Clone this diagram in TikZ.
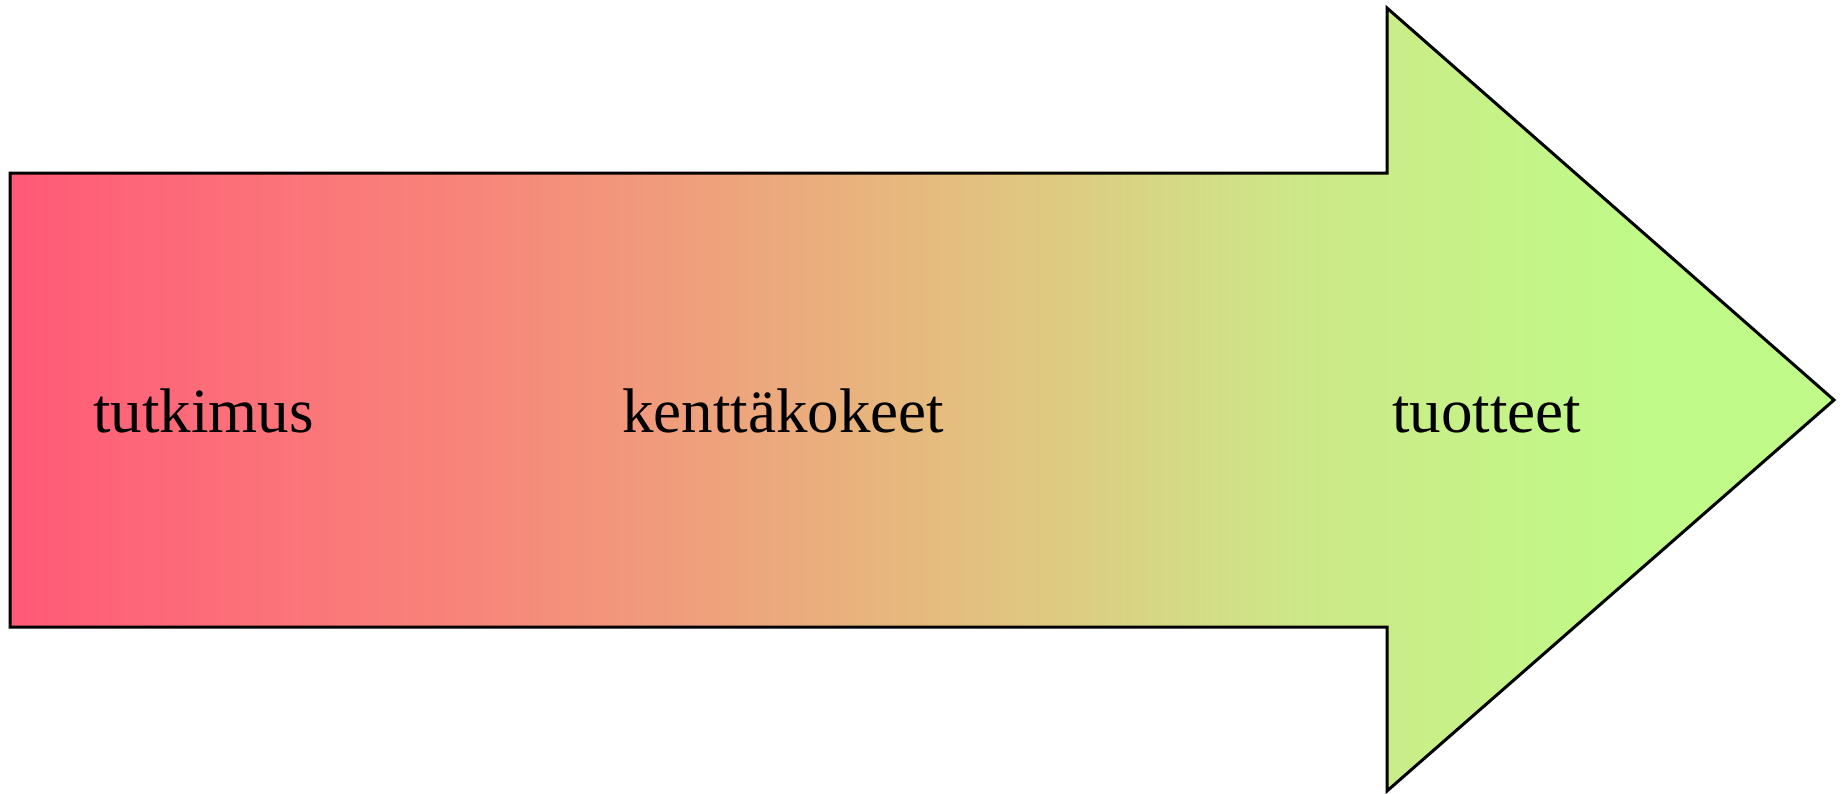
\documentclass[tikz,border=0pt]{standalone}
\usepackage{fontspec}
\setmainfont{Liberation Serif}
\definecolor{c0}{RGB}{255,90,120}
\definecolor{c1}{RGB}{248,132,122}
\definecolor{c2}{RGB}{230,186,126}
\definecolor{c3}{RGB}{205,232,136}
\definecolor{c4}{RGB}{192,250,136}
\pgfdeclarehorizontalshading{arrowgrad}{100bp}{color(0bp)=(c0); color(25bp)=(c0); color(37.34bp)=(c1); color(49.95bp)=(c2); color(60.36bp)=(c3); color(69.68bp)=(c4); color(100bp)=(c4)}
\tikzset{
  arrowshape/.style={draw=black, line width=3pt, line join=miter, shading=arrowgrad},
  lbl/.style={anchor=base west, inner sep=0pt, font=\fontsize{63}{70}\selectfont}
}
\begin{document}
\begin{tikzpicture}[x=1pt,y=-1pt]
\useasboundingbox (0,0) rectangle (1842,793);
\shade[arrowshape] (10,173) -- (1387,173) -- (1387,8) -- (1834,400) -- (1387,791) -- (1387,627) -- (10,627) -- cycle;
\node[lbl] (t1) at (93,432) {tutkimus};
\node[lbl] (t2) at (622,432) {kenttäkokeet};
\node[lbl] (t3) at (1392,432) {tuotteet};
\end{tikzpicture}
\end{document}
